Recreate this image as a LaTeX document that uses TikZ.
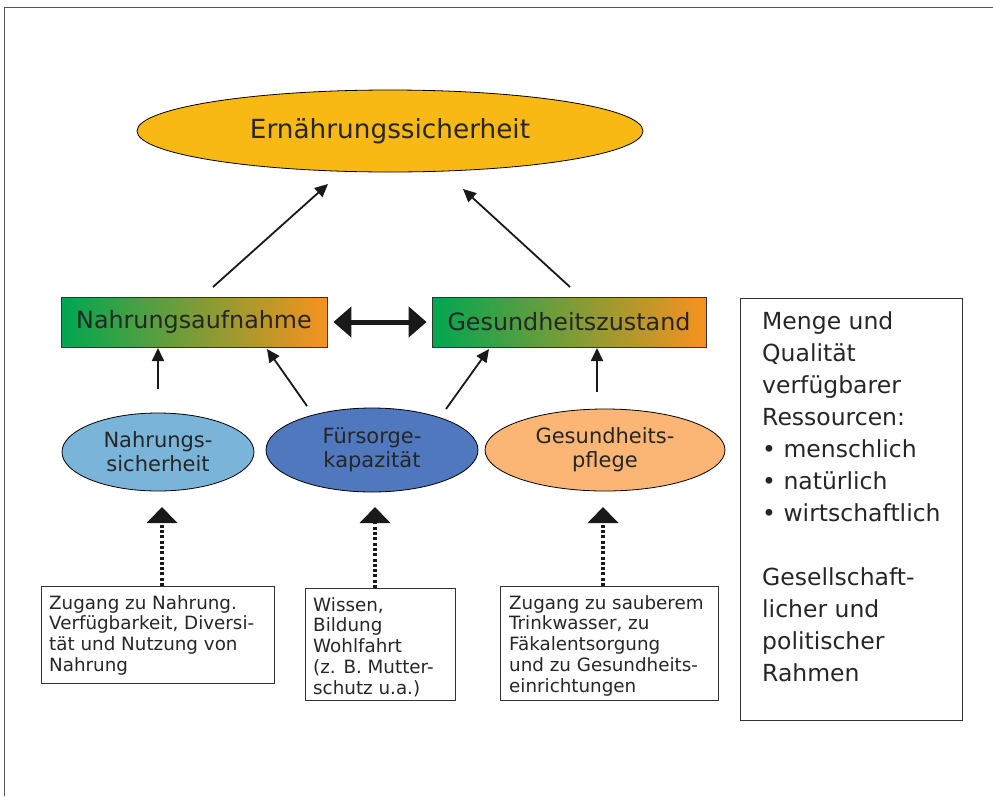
\documentclass[tikz,border=0pt]{standalone}
\usepackage{fontspec}
\setmainfont{DejaVu Sans}
\newfontfamily\verd{DejaVu Sans}
\usetikzlibrary{shapes.geometric,arrows.meta}
\definecolor{gold}{HTML}{F9B914}
\definecolor{lblue}{HTML}{7AB4D9}
\definecolor{mblue}{HTML}{4F78BF}
\definecolor{lorange}{HTML}{FBB675}
\definecolor{ggreen}{HTML}{00A651}
\definecolor{gorange}{HTML}{F7921E}
\definecolor{framegray}{HTML}{555555}
\tikzset{
  ell/.style={ellipse, draw=black, line width=0.8pt, inner sep=0pt, align=center, text=black!85},
  gradbox/.style={rectangle, draw=black!80, line width=0.8pt, left color=ggreen, right color=gorange, inner sep=0pt, font=\fontsize{23.8}{26}\selectfont, text=black!85},
  txtbox/.style={rectangle, draw=black!80, line width=0.9pt, inner sep=0pt, text=black!85},
  boxtext/.style={anchor=north west, align=left, font=\fontsize{18.3}{20.8}\selectfont, text=black!85, inner sep=0pt},
  arr/.style={-{Triangle[length=13pt,width=12pt]}, line width=1.8pt, black!90},
  dotarr/.style={-{Triangle[length=16pt,width=30pt]}, line width=4.5pt, dash pattern=on 3pt off 2.3pt, black!90},
  bigarr/.style={{Triangle[length=18pt,width=30pt]}-{Triangle[length=18pt,width=30pt]}, line width=5pt, black!90}
}
\begin{document}
\begin{tikzpicture}[x=1pt,y=-1pt]
\useasboundingbox (0,0) rectangle (993,796);
% frame
\draw[framegray, line width=1.2pt] (4.5,796) -- (4.5,7.5) -- (993,7.5);

% top ellipse
\node[ell, fill=gold, minimum width=506, minimum height=82, font=\fontsize{26.3}{30}\selectfont] (es) at (390,131) {Ernährungssicherheit};

% gradient boxes
\node[gradbox, minimum width=266, minimum height=50] (na) at (194,322) {Nahrungsaufnahme};
\node[gradbox, minimum width=274, minimum height=50] (gz) at (569,322) {Gesundheitszustand};

% middle ellipses
\node[ell, fill=lblue, minimum width=192, minimum height=78, font=\fontsize{21}{24}\selectfont] (ns) at (158,452) {Nahrungs-\\sicherheit};
\node[ell, fill=mblue, minimum width=212, minimum height=84, font=\fontsize{21}{24}\selectfont] (fk) at (372,450) {Fürsorge-\\kapazität};
\node[ell, fill=lorange, minimum width=240, minimum height=82, font=\fontsize{21}{24}\selectfont] (gp) at (605,450) {Gesundheits-\\pflege};

% bottom boxes
\node[txtbox, minimum width=233, minimum height=97, anchor=north west] (b1) at (41,586) {};
\node[boxtext] (t1) at (49,595)
  {Zugang zu Nahrung.\\Verfügbarkeit, Diversi-\\tät und Nutzung von\\Nahrung};
\node[txtbox, minimum width=150, minimum height=112, anchor=north west] (b2) at (305,588) {};
\node[boxtext] (t2) at (313,597)
  {Wissen,\\Bildung\\Wohlfahrt\\(z. B. Mutter-\\schutz u.a.)};
\node[txtbox, minimum width=218, minimum height=114, anchor=north west] (b3) at (500,586) {};
\node[boxtext] (t3) at (509,595)
  {Zugang zu sauberem\\Trinkwasser, zu\\Fäkalentsorgung\\und zu Gesundheits-\\einrichtungen};

% right box
\node[txtbox, minimum width=222, minimum height=422, anchor=north west] (rb) at (740,298) {};
\node[anchor=north west, align=left, font=\verd\fontsize{23.5}{32}\selectfont, text=black!85, inner sep=0pt] (rt) at (762,311)
  {Menge und\\Qualität\\verfügbarer\\Ressourcen:\\• menschlich\\• natürlich\\• wirtschaftlich\\[32pt]Gesellschaft-\\licher und\\politischer\\Rahmen};

% coordinates for arrows
\coordinate (a1s) at (213,287); \coordinate (a1e) at (328,184);
\coordinate (a2s) at (570,287); \coordinate (a2e) at (463,189);
\coordinate (a3s) at (158,389); \coordinate (a3e) at (158,348);
\coordinate (a4s) at (307,406); \coordinate (a4e) at (267,349);
\coordinate (a5s) at (446,409); \coordinate (a5e) at (489,349);
\coordinate (a6s) at (597,392); \coordinate (a6e) at (597,348);

\draw[arr] (a1s) -- (a1e);
\draw[arr] (a2s) -- (a2e);
\draw[arr] (a3s) -- (a3e);
\draw[arr] (a4s) -- (a4e);
\draw[arr] (a5s) -- (a5e);
\draw[arr] (a6s) -- (a6e);

\draw[bigarr] ([xshift=6pt]na.east) -- ([xshift=-5pt]gz.west);

\draw[dotarr] (b1.north -| 162,0) -- (162,507);
\draw[dotarr] (b2.north -| 375,0) -- (375,507);
\draw[dotarr] (b3.north -| 603,0) -- (603,507);
\end{tikzpicture}
\end{document}
